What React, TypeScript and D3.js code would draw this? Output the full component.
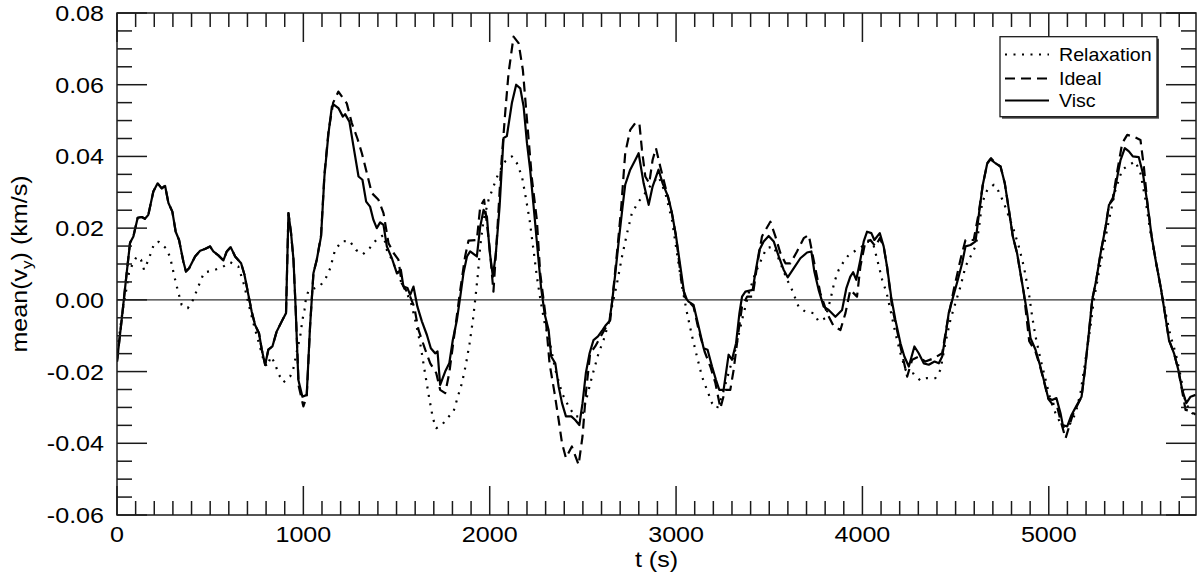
import React from "react";
import * as d3 from "d3";

// time (s), mean(v_y) (km/s)
const visc: [number, number][] = [
  [0, -0.0172], [25, -0.0056], [52, 0.0075], [70, 0.0159], [88, 0.0177], [111, 0.0229], [133, 0.0231],
  [150, 0.0226], [168, 0.0237], [195, 0.0302], [218, 0.0325], [240, 0.0311], [258, 0.0318], [276, 0.027],
  [297, 0.0246], [315, 0.019], [333, 0.0167], [356, 0.0107], [370, 0.0079], [387, 0.0088], [419, 0.0121],
  [446, 0.0137], [472, 0.0142], [499, 0.0149], [517, 0.0135], [544, 0.0124], [571, 0.011], [589, 0.0135],
  [610, 0.0147], [634, 0.0121], [666, 0.0102], [684, 0.007], [705, 0.0014], [723, -0.0033], [741, -0.007],
  [762, -0.0093], [777, -0.0139], [795, -0.0181], [812, -0.0139], [834, -0.013], [857, -0.0088], [884, -0.006],
  [907, -0.0037], [920, 0.0242], [934, 0.0186], [947, 0.0112], [959, -0.0028], [973, -0.0223], [995, -0.027],
  [1018, -0.0265], [1036, -0.0074], [1054, 0.0074], [1072, 0.0112], [1095, 0.0177], [1113, 0.0344],
  [1135, 0.0465], [1153, 0.0539], [1165, 0.0544], [1188, 0.0535], [1212, 0.0511], [1224, 0.0518],
  [1247, 0.0497], [1269, 0.0428], [1296, 0.0344], [1317, 0.0335], [1337, 0.0274], [1358, 0.026],
  [1376, 0.0223], [1394, 0.02], [1412, 0.0216], [1430, 0.0209], [1448, 0.0149], [1475, 0.0116],
  [1502, 0.0074], [1523, 0.0084], [1537, 0.0037], [1559, 0.0033], [1573, 0.0014], [1591, 0.0037],
  [1612, -0.0019], [1636, -0.006], [1663, -0.0098], [1684, -0.0135], [1707, -0.0149], [1720, -0.0144],
  [1734, -0.0237], [1761, -0.02], [1783, -0.0177], [1802, -0.0112], [1824, -0.0056], [1842, 0.0009],
  [1859, 0.0074], [1878, 0.0121], [1895, 0.0135], [1931, 0.0121], [1949, 0.0204], [1967, 0.0251],
  [1985, 0.0232], [1999, 0.0139], [2017, 0.0065], [2033, 0.013], [2053, 0.026], [2074, 0.0451],
  [2092, 0.0457], [2119, 0.0549], [2142, 0.06], [2164, 0.059], [2182, 0.0539], [2200, 0.0437],
  [2217, 0.0363], [2239, 0.0242], [2257, 0.0139], [2275, 0.0037], [2295, -0.004], [2316, -0.0084],
  [2330, -0.0158], [2352, -0.0177], [2370, -0.0242], [2388, -0.0288], [2409, -0.0325], [2438, -0.0325],
  [2459, -0.0335], [2481, -0.0349], [2498, -0.0288], [2516, -0.0204], [2536, -0.0149], [2557, -0.0112],
  [2581, -0.0102], [2606, -0.0084], [2624, -0.007], [2642, -0.006], [2656, -0.0009], [2674, 0.0074],
  [2695, 0.0177], [2713, 0.026], [2727, 0.0321], [2754, 0.0363], [2781, 0.039], [2799, 0.0409],
  [2826, 0.0325], [2853, 0.0265], [2874, 0.0316], [2906, 0.0363], [2928, 0.0325], [2957, 0.0288],
  [2978, 0.0242], [3000, 0.0177], [3023, 0.0093], [3046, 0.0009], [3067, -0.0005], [3094, -0.0014],
  [3121, -0.0074], [3148, -0.0135], [3169, -0.0139], [3193, -0.0186], [3214, -0.0223], [3232, -0.0251],
  [3255, -0.0251], [3282, -0.0153], [3300, -0.0167], [3322, -0.0121], [3340, -0.0037], [3354, 0.0009],
  [3372, 0.0023], [3411, 0.0028], [3425, 0.0074], [3447, 0.0139], [3470, 0.0163], [3497, 0.0178],
  [3524, 0.0163], [3551, 0.0121], [3577, 0.0084], [3599, 0.0063], [3631, 0.0088], [3667, 0.0116],
  [3703, 0.0132], [3726, 0.0135], [3742, 0.0079], [3765, 0.0028], [3792, -0.0019], [3819, -0.0028],
  [3855, -0.0047], [3891, -0.0028], [3914, 0.0033], [3935, 0.0065], [3950, 0.0077], [3967, 0.0056],
  [3989, 0.0112], [4007, 0.0163], [4025, 0.019], [4048, 0.0186], [4064, 0.0167], [4093, 0.0186],
  [4114, 0.0149], [4132, 0.0093], [4154, 0.0009], [4177, -0.0056], [4204, -0.0121], [4225, -0.0158],
  [4249, -0.0186], [4279, -0.013], [4302, -0.0149], [4329, -0.0177], [4356, -0.0181], [4387, -0.0172],
  [4410, -0.0177], [4428, -0.0158], [4445, -0.0102], [4463, -0.0037], [4487, 0.0009], [4512, 0.0056],
  [4535, 0.0102], [4553, 0.0149], [4580, 0.0153], [4607, 0.0163], [4628, 0.0251], [4646, 0.0321],
  [4670, 0.0381], [4687, 0.0392], [4714, 0.0381], [4741, 0.0372], [4764, 0.0325], [4786, 0.0251],
  [4807, 0.0177], [4830, 0.013], [4848, 0.0074], [4866, 0.0019], [4884, -0.0037], [4902, -0.0107],
  [4929, -0.0139], [4950, -0.0177], [4973, -0.0223], [4997, -0.0274], [5018, -0.0279], [5041, -0.0274],
  [5063, -0.0316], [5075, -0.0349], [5099, -0.0353], [5122, -0.0321], [5147, -0.0297], [5176, -0.027],
  [5194, -0.0195], [5215, -0.0093], [5233, 0], [5255, 0.0056], [5278, 0.013], [5305, 0.0204],
  [5323, 0.0265], [5344, 0.0279], [5368, 0.0344], [5385, 0.039], [5408, 0.0423], [5430, 0.0414],
  [5451, 0.04], [5483, 0.0398], [5505, 0.0353], [5529, 0.027], [5552, 0.0177], [5573, 0.0112],
  [5600, 0.0037], [5623, -0.0037], [5645, -0.0112], [5672, -0.0149], [5695, -0.0195], [5716, -0.0251],
  [5738, -0.0288], [5761, -0.027], [5788, -0.0265],
];

// Ideal run lies on top of Visc until ~960 s
const idealLate: [number, number][] = [
  [975, -0.024], [1000, -0.0297], [1018, -0.027], [1036, -0.0074], [1054, 0.0074], [1072, 0.0112],
  [1095, 0.018], [1113, 0.035], [1135, 0.047], [1160, 0.055], [1188, 0.0581], [1233, 0.0548],
  [1260, 0.0493], [1290, 0.045], [1314, 0.0409], [1341, 0.0353], [1367, 0.0298], [1403, 0.0279],
  [1430, 0.0242], [1457, 0.0158], [1485, 0.013], [1510, 0.0112], [1528, 0.0046], [1573, 0.0009],
  [1595, -0.002], [1618, -0.0084], [1654, -0.0139], [1681, -0.0177], [1713, -0.0204], [1734, -0.0251],
  [1761, -0.026], [1783, -0.0204], [1809, -0.0102], [1842, 0.0028], [1868, 0.0121], [1886, 0.0165],
  [1931, 0.0167], [1949, 0.026], [1970, 0.0279], [1999, 0.0149], [2020, 0.0023], [2039, 0.0177],
  [2060, 0.0363], [2083, 0.0521], [2101, 0.0632], [2128, 0.0734], [2155, 0.0716], [2178, 0.0641],
  [2200, 0.0502], [2227, 0.0335], [2253, 0.0223], [2271, 0.0074], [2298, -0.0037], [2321, -0.0177],
  [2348, -0.026], [2370, -0.0335], [2388, -0.04], [2409, -0.0441], [2441, -0.0409], [2477, -0.046],
  [2498, -0.0381], [2516, -0.026], [2539, -0.0149], [2566, -0.013], [2611, -0.0088], [2647, -0.0056],
  [2665, 0.0037], [2688, 0.0158], [2706, 0.026], [2727, 0.0409], [2754, 0.0474], [2781, 0.0493],
  [2803, 0.0493], [2817, 0.0418], [2835, 0.0344], [2856, 0.0325], [2874, 0.039], [2892, 0.0423],
  [2915, 0.0372], [2942, 0.0316], [2974, 0.0251], [3000, 0.0177], [3032, 0.0037], [3059, 0],
  [3094, -0.0019], [3121, -0.0084], [3153, -0.0144], [3184, -0.0186], [3211, -0.0232], [3238, -0.0302],
  [3264, -0.0251], [3291, -0.0251], [3309, -0.0195], [3336, -0.0084], [3354, -0.0019], [3381, 0.0009],
  [3411, 0.0009], [3434, 0.0093], [3461, 0.0177], [3470, 0.0186], [3506, 0.0218], [3533, 0.0177],
  [3560, 0.013], [3587, 0.0102], [3614, 0.0102], [3649, 0.0135], [3685, 0.0172], [3712, 0.0181],
  [3738, 0.0112], [3774, 0.0019], [3810, -0.0037], [3846, -0.0074], [3882, -0.0084], [3909, -0.0037],
  [3935, 0.0028], [3971, 0.0009], [3989, 0.0093], [4016, 0.0163], [4043, 0.0167], [4070, 0.0149],
  [4093, 0.0172], [4114, 0.0149], [4132, 0.0093], [4159, -0.0019], [4204, -0.013], [4240, -0.0214],
  [4267, -0.0167], [4302, -0.0158], [4338, -0.0172], [4383, -0.0163], [4428, -0.0149], [4455, -0.0065],
  [4490, 0.0028], [4526, 0.0112], [4553, 0.0167], [4597, 0.0167], [4624, 0.0242], [4646, 0.0321],
  [4670, 0.0381], [4690, 0.0395], [4714, 0.0381], [4741, 0.0372], [4764, 0.0325], [4786, 0.0251],
  [4807, 0.0177], [4830, 0.013], [4848, 0.0074], [4866, 0.0019], [4895, -0.0115], [4929, -0.0145],
  [4950, -0.018], [4973, -0.0225], [4997, -0.0276], [5018, -0.029], [5041, -0.029], [5065, -0.034],
  [5090, -0.0386], [5126, -0.0325], [5147, -0.03], [5176, -0.027], [5194, -0.0195], [5215, -0.0093],
  [5233, 0], [5255, 0.0056], [5278, 0.013], [5305, 0.0204], [5323, 0.0265], [5344, 0.0285],
  [5368, 0.036], [5394, 0.0437], [5421, 0.046], [5456, 0.0455], [5492, 0.0446], [5510, 0.0372],
  [5529, 0.027], [5552, 0.0177], [5573, 0.0112], [5600, 0.0037], [5623, -0.0037], [5645, -0.0112],
  [5672, -0.0149], [5695, -0.0195], [5716, -0.0255], [5734, -0.0307], [5760, -0.031], [5788, -0.032],
];
const ideal: [number, number][] = visc.filter((d) => d[0] < 965).concat(idealLate);

const relaxation: [number, number][] = [
  [0, -0.0165], [7, -0.0121], [28, -0.0037], [47, 0.0019], [64, 0.0074], [82, 0.0098], [106, 0.0121],
  [129, 0.0112], [145, 0.0084], [165, 0.0107], [183, 0.0132], [200, 0.0158], [224, 0.0162], [263, 0.0144],
  [285, 0.0119], [308, 0.0065], [320, 0.0039], [333, 0.0013], [347, -0.0014], [380, -0.0023], [408, 0],
  [428, 0.0026], [447, 0.0051], [467, 0.0076], [515, 0.0082], [564, 0.0091], [608, 0.0105], [651, 0.0093],
  [682, 0.0042], [705, -0.0009], [732, -0.0065], [759, -0.0116], [786, -0.0167], [804, -0.0186],
  [827, -0.0158], [848, -0.0178], [866, -0.0206], [893, -0.023], [929, -0.0214], [947, -0.019],
  [965, -0.0144], [983, -0.0102], [995, -0.0056], [1006, -0.0028], [1013, 0], [1027, 0.0025],
  [1090, 0.0039], [1120, 0.006], [1144, 0.0088], [1170, 0.0139], [1206, 0.0163], [1247, 0.0165],
  [1283, 0.0139], [1319, 0.0127], [1355, 0.0144], [1391, 0.0167], [1430, 0.0181], [1448, 0.0139],
  [1475, 0.0112], [1502, 0.0079], [1528, 0.0046], [1555, 0.0019], [1578, -0.0009], [1600, -0.0056],
  [1627, -0.0121], [1650, -0.0195], [1674, -0.027], [1695, -0.033], [1713, -0.0358], [1743, -0.0349],
  [1773, -0.033], [1806, -0.0311], [1829, -0.027], [1851, -0.0232], [1872, -0.0181], [1892, -0.0121],
  [1910, -0.0056], [1924, 0.0009], [1937, 0.0074], [1949, 0.0149], [1967, 0.0223], [1994, 0.0279],
  [2020, 0.0316], [2047, 0.0353], [2083, 0.0386], [2119, 0.04], [2146, 0.0381], [2173, 0.0344],
  [2191, 0.0293], [2214, 0.0223], [2235, 0.0139], [2253, 0.0065], [2275, -0.0009], [2298, -0.0074],
  [2316, -0.0102], [2352, -0.0195], [2388, -0.026], [2423, -0.0297], [2459, -0.0325], [2495, -0.0325],
  [2522, -0.027], [2549, -0.0214], [2584, -0.0149], [2611, -0.0112], [2638, -0.0065], [2656, -0.0019],
  [2683, 0.0046], [2710, 0.0121], [2737, 0.0186], [2763, 0.0242], [2799, 0.0274], [2835, 0.0298],
  [2871, 0.0325], [2906, 0.0344], [2942, 0.0298], [2978, 0.0223], [3005, 0.013], [3032, 0.0037],
  [3059, -0.0037], [3086, -0.0102], [3112, -0.0158], [3139, -0.0214], [3166, -0.0251], [3193, -0.0288],
  [3220, -0.0302], [3246, -0.027], [3282, -0.0204], [3318, -0.0139], [3354, -0.0056], [3390, 0.0019],
  [3425, 0.0074], [3461, 0.0116], [3485, 0.0144], [3524, 0.0149], [3560, 0.0102], [3596, 0.0056],
  [3622, 0.0028], [3658, -0.002], [3694, -0.0033], [3738, -0.0037], [3765, -0.006], [3801, -0.0051],
  [3828, 0], [3850, 0.0051], [3873, 0.0084], [3900, 0.0107], [3926, 0.0125], [3962, 0.0137],
  [3998, 0.0149], [4025, 0.0163], [4057, 0.0158], [4082, 0.0107], [4106, 0.0056], [4130, 0.0019],
  [4154, -0.0037], [4177, -0.0093], [4204, -0.0149], [4231, -0.0195], [4275, -0.0206], [4311, -0.0225],
  [4347, -0.0218], [4392, -0.0218], [4419, -0.0195], [4445, -0.0121], [4472, -0.0056], [4499, -0.0009],
  [4526, 0.0037], [4553, 0.0093], [4580, 0.0121], [4607, 0.0149], [4624, 0.0195], [4642, 0.027],
  [4670, 0.0307], [4705, 0.0321], [4732, 0.0302], [4759, 0.027], [4786, 0.0232], [4812, 0.0195],
  [4839, 0.0149], [4866, 0.0093], [4893, 0.0019], [4911, -0.0047], [4929, -0.0102], [4956, -0.0167],
  [4983, -0.0223], [5009, -0.0279], [5036, -0.0316], [5063, -0.0344], [5086, -0.0358], [5117, -0.0344],
  [5144, -0.0316], [5170, -0.026], [5197, -0.0167], [5224, -0.0074], [5242, 0], [5268, 0.0074],
  [5295, 0.0149], [5323, 0.0223], [5358, 0.0307], [5394, 0.0363], [5430, 0.0376], [5465, 0.0386],
  [5492, 0.0353], [5519, 0.0279], [5546, 0.0186], [5573, 0.0112], [5600, 0.0037], [5627, -0.0037],
  [5654, -0.0102], [5681, -0.0149], [5708, -0.0214], [5734, -0.0288], [5770, -0.0316], [5788, -0.032],
];

const yTickLabels = ["-0.06", "-0.04", "-0.02", "0.00", "0.02", "0.04", "0.06", "0.08"];
const xTickLabels = ["0", "1000", "2000", "3000", "4000", "5000"];
const legendNames = ["Relaxation", "Ideal", "Visc"];

const W = 1200;
const H = 578;
const left = 117;
const right = 1196;
const top = 13;
const bottom = 515;
const FONT = "'Liberation Sans', Arial, Helvetica, sans-serif";
const INK = "#1a1a1a";

export default function App() {
  const x = d3.scaleLinear().domain([0, 5790]).range([left, right]);
  const y = d3.scaleLinear().domain([-0.06, 0.08]).range([bottom, top]);
  const line = d3
    .line<[number, number]>()
    .x((d) => x(d[0]))
    .y((d) => y(d[1]));

  const xMinor = d3.range(0, 5790, 100);
  const yMinor = d3.range(-0.06, 0.0801, 0.005);
  const series = [
    { name: legendNames[0], data: relaxation, dash: "2 6.5", width: 2.2 },
    { name: legendNames[1], data: ideal, dash: "10 6", width: 2.2 },
    { name: legendNames[2], data: visc, dash: "none", width: 2.2 },
  ];
  const legendRows = [54.5, 78.5, 100.5];

  return (
    <svg width={W} height={H} style={{ position: "absolute", left: 0, top: 0 }}>
      <rect width={W} height={H} fill="#fff" />
      <defs>
        <clipPath id="plot">
          <rect x={left} y={top} width={right - left} height={bottom - top} />
        </clipPath>
      </defs>

      <line x1={left} x2={right} y1={y(0)} y2={y(0)} stroke="#333" strokeWidth={1.2} />

      <g clipPath="url(#plot)" fill="none" stroke="#000">
        {series.map((s) => (
          <path
            key={s.name}
            d={line(s.data) || ""}
            strokeWidth={s.width}
            strokeDasharray={s.dash}
            strokeLinejoin="round"
          />
        ))}
      </g>

      {/* frame and ticks */}
      <g stroke={INK} strokeWidth={1.5}>
        <rect x={left} y={top} width={right - left} height={bottom - top} fill="none" />
        {xMinor.map((t) => {
          const len = t % 1000 === 0 ? 29 : 14;
          return (
            <g key={"x" + t}>
              <line x1={x(t)} x2={x(t)} y1={bottom} y2={bottom - len} />
              <line x1={x(t)} x2={x(t)} y1={top} y2={top + len} />
            </g>
          );
        })}
        {yMinor.map((v, i) => {
          const len = i % 4 === 0 ? 30 : 15;
          return (
            <g key={"y" + i}>
              <line x1={left} x2={left + len} y1={y(v)} y2={y(v)} />
              <line x1={right} x2={right - len} y1={y(v)} y2={y(v)} />
            </g>
          );
        })}
      </g>

      <g fontFamily={FONT} fontSize={22} fill="#000">
        {yTickLabels.map((lab) => (
          <g key={lab} transform={`translate(${left - 13},${y(+lab) + 8}) scale(1.14,1)`}>
            <text textAnchor="end">{lab}</text>
          </g>
        ))}
        {xTickLabels.map((lab) => (
          <g key={lab} transform={`translate(${x(+lab)},${542}) scale(1.14,1)`}>
            <text textAnchor="middle">{lab}</text>
          </g>
        ))}
        <g transform={`translate(${(left + right) / 2},${567}) scale(1.14,1)`}>
          <text textAnchor="middle">t (s)</text>
        </g>
        <g transform={`translate(27,${(top + bottom) / 2}) rotate(-90) scale(1.14,1)`}>
          <text textAnchor="middle">
            mean(v<tspan fontSize={15} dy={5}>y</tspan>
            <tspan dy={-5}>) (km/s)</tspan>
          </text>
        </g>
      </g>

      {/* legend */}
      <g>
        <rect x={1002} y={38.7} width={157} height={80} fill="#444" />
        <rect x={1000} y={36.7} width={157} height={80} fill="#fff" stroke={INK} strokeWidth={1.3} />
        {series.map((s, i) => (
          <g key={s.name}>
            <line
              x1={1005}
              x2={1049}
              y1={legendRows[i]}
              y2={legendRows[i]}
              stroke="#000"
              strokeWidth={s.width}
              strokeDasharray={s.dash}
            />
            <g transform={`translate(1059,${legendRows[i] + 6.5}) scale(1.06,1)`}>
              <text fontFamily={FONT} fontSize={18.5} fill="#000">
                {s.name}
              </text>
            </g>
          </g>
        ))}
      </g>
    </svg>
  );
}
